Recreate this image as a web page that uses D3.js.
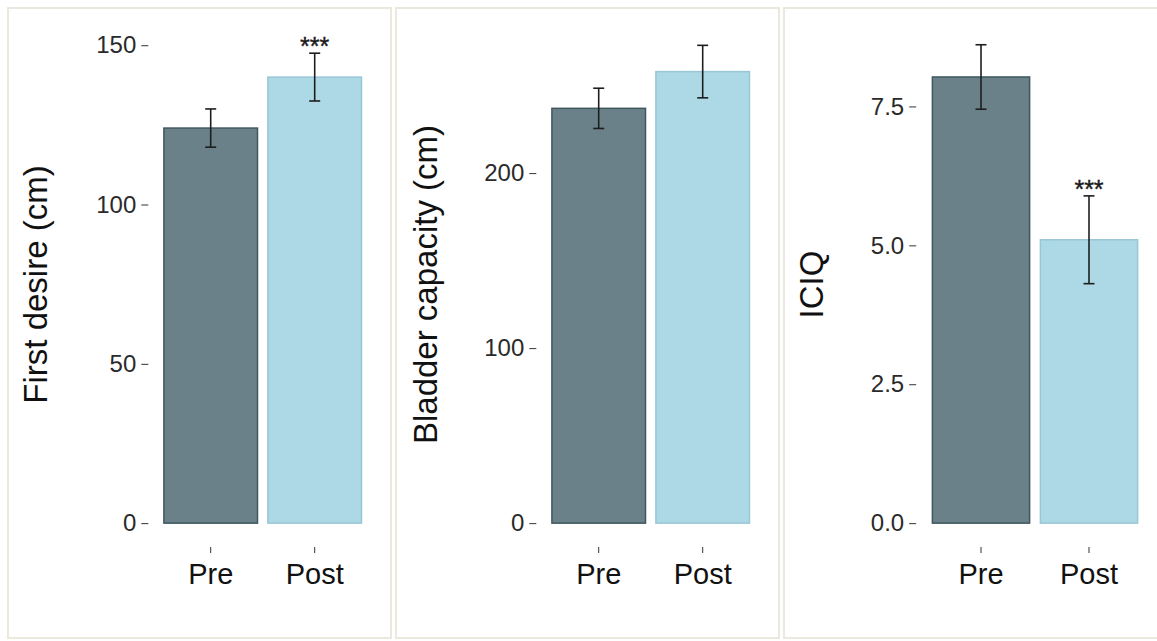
<!DOCTYPE html>
<html>
<head>
<meta charset="utf-8">
<script src="https://cdn.jsdelivr.net/npm/d3@7"></script>
<style>
  html, body { margin: 0; padding: 0; background: #fff; }
  svg { display: block; font-family: "Liberation Sans", Arial, sans-serif; }
</style>
</head>
<body>
<svg id="chart" width="1157" height="641"></svg>
<script>
// Group labels shared by all three panels
const categories = ["Pre", "Post"];

// First desire (cm): means and error half-widths
const firstDesire = [124, 140];
const firstDesireErr = [6, 7.5];

// Bladder capacity (cm)
const bladderCapacity = [237, 258];
const bladderCapacityErr = [11.5, 15];

// ICIQ score
const iciq = [8.03, 5.1];
const iciqErr = [0.58, 0.79];

// Significance marks above each group
const firstDesireSig = ["", "***"];
const bladderCapacitySig = ["", ""];
const iciqSig = ["", "***"];

// Axis ticks and upper data limit of each panel
const firstDesireTicks = [0, 50, 100, 150];
const bladderCapacityTicks = [0, 100, 200];
const iciqTicks = [0, 2.5, 5, 7.5];
const yUpper = [149.8, 272.7, 8.59];

const titles = ["First desire (cm)", "Bladder capacity (cm)", "ICIQ"];

const fills = ["#6a8189", "#add8e6"];
const strokes = ["#3f575e", "#98c7d5"];

const svg = d3.select("#chart");
svg.append("rect").attr("width", 1157).attr("height", 641).attr("fill", "#fff");

const panels = [
  { box: [8, 8, 383, 630], plotX: [148.3, 377.1], titleX: 47,
    values: firstDesire, errs: firstDesireErr, sig: firstDesireSig,
    ticks: firstDesireTicks, fmt: d3.format("d") },
  { box: [396, 8, 383, 630], plotX: [536.3, 765.1], titleX: 437,
    values: bladderCapacity, errs: bladderCapacityErr, sig: bladderCapacitySig,
    ticks: bladderCapacityTicks, fmt: d3.format("d") },
  { box: [784, 8, 380, 630], plotX: [916.2, 1153.8], titleX: 823,
    values: iciq, errs: iciqErr, sig: iciqSig,
    ticks: iciqTicks, fmt: d3.format(".1f") }
];

const plotTop = 22, plotBottom = 547;

panels.forEach((p, i) => {
  const g = svg.append("g");

  // panel frame
  g.append("rect")
    .attr("x", p.box[0]).attr("y", p.box[1])
    .attr("width", p.box[2]).attr("height", p.box[3])
    .attr("fill", "#fff").attr("stroke", "#ebe8dd").attr("stroke-width", 2);

  const M = yUpper[i];
  const y = d3.scaleLinear().domain([-0.05 * M, 1.05 * M]).range([plotBottom, plotTop]);
  const x = d3.scaleBand().domain(categories).range(p.plotX)
    .paddingInner(0.1).paddingOuter(0.15);

  const rows = categories.map((c, k) => ({ c, v: p.values[k], e: p.errs[k], s: p.sig[k], k }));

  // bars
  g.selectAll("rect.bar").data(rows).join("rect")
    .attr("class", "bar")
    .attr("x", d => x(d.c))
    .attr("width", x.bandwidth())
    .attr("y", d => y(d.v))
    .attr("height", d => y(0) - y(d.v))
    .attr("fill", d => fills[d.k])
    .attr("stroke", d => strokes[d.k])
    .attr("stroke-width", 1.5);

  // error bars
  const cx = d => x(d.c) + x.bandwidth() / 2;
  const eb = g.selectAll("g.err").data(rows).join("g").attr("class", "err")
    .attr("stroke", "#1e1e1e").attr("stroke-width", 1.6);
  eb.append("line").attr("x1", cx).attr("x2", cx)
    .attr("y1", d => y(d.v + d.e)).attr("y2", d => y(d.v - d.e));
  eb.append("line").attr("x1", d => cx(d) - 5.5).attr("x2", d => cx(d) + 5.5)
    .attr("y1", d => y(d.v + d.e)).attr("y2", d => y(d.v + d.e));
  eb.append("line").attr("x1", d => cx(d) - 5.5).attr("x2", d => cx(d) + 5.5)
    .attr("y1", d => y(d.v - d.e)).attr("y2", d => y(d.v - d.e));

  // significance stars
  g.selectAll("text.sig").data(rows.filter(d => d.s)).join("text")
    .attr("class", "sig")
    .attr("x", cx)
    .attr("y", d => y(d.v + d.e) + 2)
    .attr("text-anchor", "middle")
    .attr("font-size", 25)
    .attr("fill", "#1a1a1a")
    .attr("stroke", "#1a1a1a").attr("stroke-width", 0.4)
    .text(d => d.s);

  // y axis
  const ya = g.append("g")
    .attr("transform", `translate(${p.plotX[0]},0)`)
    .call(d3.axisLeft(y).tickValues(p.ticks).tickFormat(p.fmt).tickSize(7).tickPadding(5));
  ya.select(".domain").remove();
  ya.selectAll(".tick line").attr("stroke", "#333").attr("stroke-width", 1);
  ya.selectAll(".tick text").attr("font-size", 24).attr("fill", "#2a2a2a")
    .attr("font-family", "Liberation Sans, Arial, sans-serif");

  // x axis
  const xa = g.append("g")
    .attr("transform", `translate(0,${plotBottom})`)
    .call(d3.axisBottom(x).tickSize(6).tickPadding(10.5));
  xa.select(".domain").remove();
  xa.selectAll(".tick line").attr("stroke", "#333").attr("stroke-width", 1);
  xa.selectAll(".tick text").attr("font-size", 29).attr("fill", "#111")
    .attr("font-family", "Liberation Sans, Arial, sans-serif");

  // y title
  g.append("text")
    .attr("transform", `translate(${p.titleX},${(plotTop + plotBottom) / 2}) rotate(-90)`)
    .attr("text-anchor", "middle")
    .attr("font-size", 33)
    .attr("fill", "#111")
    .text(titles[i]);
});
</script>
</body>
</html>
